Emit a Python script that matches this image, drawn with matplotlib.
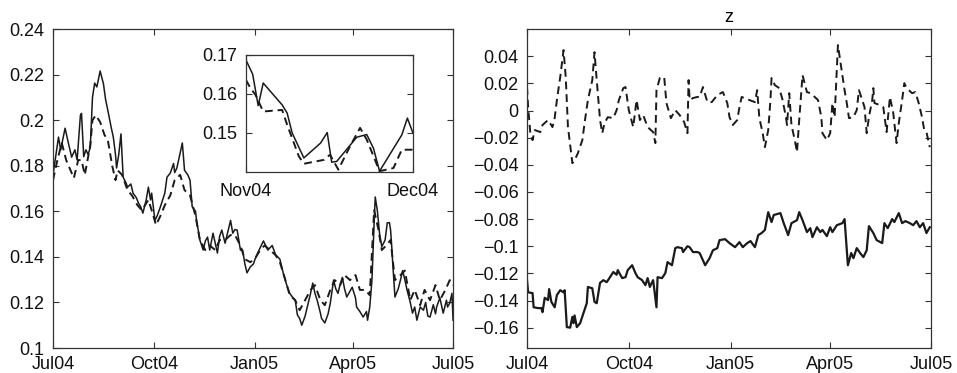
import numpy as np
import pandas as pd
import matplotlib
matplotlib.use("Agg")
import matplotlib.pyplot as plt
import matplotlib.dates as mdates
from matplotlib.ticker import FuncFormatter

plt.rcParams["font.family"] = ["Liberation Sans", "DejaVu Sans"]
plt.rcParams["font.size"] = 13

start = pd.Timestamp("2004-07-01")
inset_start = pd.Timestamp("2004-11-01")

# left panel: days since Jul 1 2004
left_solid_day = [0, 3, 5, 7, 11, 14, 16, 17, 20, 22,
                  25, 26, 28, 30, 32, 34, 36, 38, 40, 43,
                  46, 48, 50, 53, 55, 57, 58, 60, 62, 64,
                  67, 68, 71, 73, 76, 78, 80, 82, 85, 87,
                  89, 90, 93, 95, 98, 100, 102, 104, 107, 110,
                  111, 113, 116, 118, 120, 123, 125, 127, 130, 131,
                  134, 137, 139, 141, 143, 146, 148, 150, 152, 154,
                  157, 160, 162, 164, 166, 168, 171, 173, 175, 177,
                  180, 183, 184, 187, 189, 192, 193, 196, 200, 203,
                  207, 210, 213, 216, 219, 221, 223, 225, 227, 230,
                  232, 235, 237, 239, 241, 244, 245, 248, 251, 253,
                  256, 258, 260, 262, 264, 266, 268, 271, 273, 276,
                  277, 280, 283, 286, 287, 289, 291, 293, 294, 296,
                  297, 298, 300, 303, 305, 307, 308, 309, 310, 312,
                  315, 317, 319, 321, 323, 326, 328, 330, 332, 335,
                  338, 340, 342, 344, 347, 349, 350, 353, 356, 359,
                  360, 362, 364, 365]
left_solid = [0.176, 0.186, 0.1926, 0.187, 0.1965, 0.19, 0.186, 0.1838, 0.187, 0.1825,
              0.2022, 0.203, 0.184, 0.187, 0.185, 0.188, 0.210, 0.2163, 0.2146, 0.2216,
              0.216, 0.209, 0.2044, 0.197, 0.1926, 0.185, 0.179, 0.185, 0.194, 0.175,
              0.172, 0.1706, 0.172, 0.168, 0.166, 0.1636, 0.162, 0.1592, 0.165, 0.1706,
              0.165, 0.168, 0.156, 0.158, 0.162, 0.165, 0.168, 0.175, 0.1768, 0.181,
              0.177, 0.179, 0.1855, 0.19, 0.178, 0.176, 0.1737, 0.162, 0.160, 0.156,
              0.1474, 0.143, 0.147, 0.1487, 0.143, 0.1504, 0.146, 0.1417, 0.149, 0.1518,
              0.146, 0.152, 0.156, 0.1504, 0.152, 0.1518, 0.143, 0.143, 0.137, 0.133,
              0.1356, 0.137, 0.1386, 0.142, 0.144, 0.147, 0.146, 0.143, 0.145, 0.141,
              0.139, 0.133, 0.128, 0.124, 0.122, 0.121, 0.1145, 0.113, 0.110, 0.114,
              0.118, 0.124, 0.1285, 0.124, 0.121, 0.1153, 0.113, 0.111, 0.115, 0.1197,
              0.1298, 0.126, 0.124, 0.128, 0.131, 0.126, 0.1224, 0.125, 0.1267, 0.122,
              0.118, 0.116, 0.1136, 0.116, 0.1122, 0.118, 0.1298, 0.155, 0.1663, 0.160,
              0.1548, 0.150, 0.1445, 0.1474, 0.155, 0.155, 0.1518, 0.145, 0.137, 0.1224,
              0.126, 0.1298, 0.134, 0.130, 0.1255, 0.120, 0.1153, 0.118, 0.1122, 0.118,
              0.1166, 0.120, 0.114, 0.1136, 0.119, 0.115, 0.118, 0.122, 0.1153, 0.121,
              0.118, 0.1197, 0.124, 0.1122]

left_dash_day = [0, 4, 8, 12, 16, 19, 23, 26, 29, 34,
                 36, 39, 43, 47, 50, 54, 57, 59, 63, 68,
                 72, 77, 81, 87, 90, 94, 98, 102, 107, 111,
                 116, 120, 125, 130, 134, 139, 143, 148, 152, 157,
                 162, 166, 171, 175, 180, 184, 189, 193, 198, 203,
                 207, 212, 216, 221, 225, 230, 235, 239, 244, 248,
                 253, 257, 262, 266, 271, 276, 280, 285, 289, 293,
                 297, 300, 304, 308, 312, 317, 321, 326, 330, 335,
                 339, 344, 349, 353, 358, 362, 365]
left_dash = [0.1737, 0.1825, 0.19, 0.1825, 0.178, 0.1746, 0.1825, 0.1825, 0.176, 0.189,
             0.2, 0.2022, 0.1992, 0.1935, 0.1913, 0.18, 0.1737, 0.178, 0.176, 0.1693,
             0.167, 0.1627, 0.1605, 0.165, 0.1605, 0.154, 0.158, 0.1627, 0.167, 0.1737,
             0.176, 0.1693, 0.167, 0.158, 0.1474, 0.143, 0.145, 0.143, 0.1474, 0.1474,
             0.1496, 0.1496, 0.145, 0.139, 0.1377, 0.139, 0.143, 0.145, 0.143, 0.1408,
             0.1377, 0.1298, 0.1232, 0.121, 0.1166, 0.121, 0.1255, 0.1276, 0.121, 0.1188,
             0.1255, 0.1298, 0.1276, 0.132, 0.1298, 0.132, 0.1255, 0.1255, 0.1232, 0.1605,
             0.1518, 0.143, 0.145, 0.1474, 0.1298, 0.132, 0.134, 0.121, 0.1255, 0.1188,
             0.1255, 0.121, 0.1276, 0.121, 0.1255, 0.1298, 0.1276]

# inset: days since Nov 1 2004
inset_solid_day = [0, 1.2, 2.2, 3.1, 6.5, 7.4, 8.3, 10.4, 13.4, 14.6,
                   15.4, 16.3, 19.9, 21.7, 22.9, 24, 28, 29, 30]
inset_solid = [0.1687, 0.1651, 0.157, 0.1628, 0.1572, 0.1551, 0.15, 0.1436, 0.1474, 0.1501,
               0.1425, 0.1427, 0.1489, 0.1496, 0.1461, 0.1402, 0.1495, 0.1538, 0.15]
inset_dash_day = [0, 0.8, 1.7, 3.1, 6.5, 7.4, 9.5, 10.4, 14, 15.1,
                  16.6, 18.7, 20.5, 21.7, 24, 26.5, 28, 30]
inset_dash = [0.1636, 0.1615, 0.1598, 0.1555, 0.1559, 0.1521, 0.144, 0.1421, 0.1431, 0.1444,
              0.1406, 0.1466, 0.1513, 0.1483, 0.1402, 0.141, 0.1457, 0.1457]

# right panel (z)
right_solid_day = [0, 1, 5, 6, 10, 13, 14, 16, 19, 20,
                   22, 25, 27, 30, 33, 34, 36, 39, 41, 42,
                   43, 45, 48, 51, 54, 55, 59, 61, 63, 66,
                   69, 72, 75, 78, 81, 82, 86, 89, 91, 95,
                   98, 100, 104, 107, 109, 111, 114, 117, 118, 122,
                   125, 127, 131, 134, 136, 140, 141, 145, 147, 150,
                   154, 156, 161, 165, 168, 172, 174, 179, 183, 188,
                   192, 195, 199, 202, 206, 209, 212, 215, 218, 221,
                   223, 229, 232, 236, 239, 244, 246, 249, 253, 256,
                   258, 262, 265, 267, 271, 274, 276, 280, 285, 287,
                   290, 293, 295, 298, 301, 304, 307, 309, 313, 316,
                   321, 323, 326, 330, 332, 336, 339, 342, 346, 349,
                   352, 355, 358, 361, 364]
right_solid = [-0.125, -0.134, -0.1345, -0.145, -0.1456, -0.1456, -0.1486, -0.138, -0.1397, -0.1316,
               -0.141, -0.145, -0.136, -0.1324, -0.134, -0.1324, -0.1596, -0.160, -0.152, -0.1567,
               -0.151, -0.1596, -0.1567, -0.1493, -0.142, -0.130, -0.131, -0.141, -0.142, -0.127,
               -0.125, -0.1265, -0.1228, -0.119, -0.121, -0.1176, -0.1235, -0.1228, -0.1176, -0.114,
               -0.1198, -0.1228, -0.125, -0.1287, -0.1235, -0.130, -0.125, -0.145, -0.1228, -0.1235,
               -0.1198, -0.1117, -0.114, -0.1014, -0.1007, -0.1014, -0.1043, -0.1, -0.1007, -0.1043,
               -0.1043, -0.105, -0.114, -0.1088, -0.103, -0.1014, -0.0955, -0.0948, -0.0977, -0.1007,
               -0.097, -0.1007, -0.0977, -0.0962, -0.1007, -0.0918, -0.0903, -0.088, -0.0749, -0.0822,
               -0.077, -0.0756, -0.083, -0.0918, -0.083, -0.0808, -0.0749, -0.0808, -0.0896, -0.0867,
               -0.0933, -0.086, -0.0896, -0.088, -0.0926, -0.086, -0.0896, -0.0845, -0.083, -0.080,
               -0.114, -0.105, -0.1088, -0.1014, -0.105, -0.108, -0.103, -0.0852, -0.0903, -0.0955,
               -0.0977, -0.083, -0.0867, -0.080, -0.0822, -0.0756, -0.083, -0.0815, -0.083, -0.0845,
               -0.0815, -0.086, -0.083, -0.0903, -0.086]

right_dash_day = [0, 1, 3, 5, 7, 12, 14, 19, 23, 25,
                  27, 30, 33, 35, 37, 41, 43, 46, 50, 52,
                  55, 59, 61, 63, 66, 68, 70, 73, 78, 81,
                  83, 87, 89, 92, 96, 99, 102, 105, 109, 114,
                  116, 117, 120, 124, 126, 130, 134, 138, 142, 145,
                  146, 147, 150, 154, 156, 159, 163, 167, 172, 177,
                  181, 183, 186, 190, 192, 194, 201, 206, 208, 210,
                  213, 215, 218, 220, 221, 224, 228, 231, 234, 235,
                  237, 239, 242, 244, 246, 248, 249, 253, 256, 260,
                  263, 266, 267, 271, 274, 276, 278, 280, 281, 283,
                  285, 287, 289, 291, 295, 298, 300, 303, 305, 307,
                  309, 312, 313, 314, 319, 322, 325, 328, 331, 334,
                  336, 339, 341, 343, 348, 351, 354, 357, 359, 361,
                  364]
right_dash = [0.0173, 0.0025, -0.0167, -0.0218, -0.0144, -0.0159, -0.0107, -0.007, -0.0122, -0.0056,
              0.0077, 0.0246, 0.0445, 0.0246, -0.0122, -0.0388, -0.0366, -0.0314, -0.0218, -0.0093,
              0.0077, 0.0224, 0.043, 0.0224, -0.007, -0.0167, -0.0093, -0.0049, -0.0056, 0.0003,
              0.0077, 0.0165, 0.0173, 0.0003, -0.0122, 0.0077, -0.007, -0.0034, -0.0122, -0.0159,
              -0.024, 0.015, 0.0239, 0.0246, 0.0055, -0.0056, 0.0003, -0.0034, -0.0085, -0.0167,
              0.0224, 0.0077, 0.0092, 0.01, 0.01, 0.0173, 0.0062, 0.0062, 0.0114, 0.0136,
              0.0055, -0.0049, -0.0107, -0.007, 0.0025, 0.01, 0.0077, 0.0062, 0.015, -0.0056,
              -0.0167, -0.027, -0.0144, 0.0077, 0.0239, 0.0187, 0.0165, 0.0077, -0.0049, -0.0107,
              0.0128, -0.0107, -0.0218, -0.0307, -0.007, 0.015, 0.0261, 0.0136, 0.0128, 0.01,
              0.0077, -0.0049, -0.0167, -0.0218, -0.0167, 0.0055, -0.0049, 0.0298, 0.0482, 0.0371,
              0.0261, 0.015, 0.0055, -0.0056, -0.0049, 0.0003, 0.015, 0.0077, 0.0025, -0.0167,
              -0.0049, 0.0077, 0.0165, 0.0055, 0.004, 0.0025, -0.0159, 0.01, -0.0019, -0.024,
              -0.0093, 0.0077, 0.0202, 0.0165, 0.0128, 0.0136, 0.0055, -0.0049, -0.0144, -0.0159,
              -0.027]


def to_dates(base, days):
    return base + pd.to_timedelta(np.array(days, dtype=float), unit="D")


def fmt(v, pos):
    if abs(v) < 1e-9:
        return "0"
    s = "{:g}".format(round(v, 4))
    return s.replace("-", "\u2212")


def matlab_style(ax):
    for sp in ax.spines.values():
        sp.set_color("#333333")
        sp.set_linewidth(0.9)
    ax.tick_params(direction="in", length=4, width=0.8, top=True, right=True,
                   colors="#333333", labelcolor="#111111", labelsize=13)
    ax.tick_params(axis="x", pad=6)
    ax.tick_params(axis="y", pad=6)


line_kw = dict(color="#1a1a1a", linewidth=1.1)
dash_kw = dict(color="#1a1a1a", linewidth=1.4, linestyle=(0, (4, 2.5)))

fig = plt.figure(figsize=(9.57, 3.73), dpi=100)
ax1 = fig.add_axes([0.0554, 0.067, 0.418, 0.855])
ax2 = fig.add_axes([0.5507, 0.067, 0.422, 0.855])
axin = fig.add_axes([0.257, 0.539, 0.1745, 0.3137])

ax1.plot(to_dates(start, left_solid_day), left_solid, **line_kw)
ax1.plot(to_dates(start, left_dash_day), left_dash, **dash_kw)
ax1.set_ylim(0.1, 0.24)
ax1.set_yticks(np.arange(0.1, 0.2401, 0.02))

ax2.plot(to_dates(start, right_dash_day), right_dash, **dash_kw)
ax2.plot(to_dates(start, right_solid_day), right_solid, color="#1a1a1a", linewidth=1.6)
ax2.set_ylim(-0.175, 0.06)
ax2.set_yticks(np.arange(-0.16, 0.0401, 0.02))
ax2.set_title("z", fontsize=13, pad=5)

xticks = pd.to_datetime(["2004-07-01", "2004-10-01", "2005-01-01", "2005-04-01", "2005-07-01"])
for ax in (ax1, ax2):
    ax.set_xlim(xticks[0], xticks[-1])
    ax.set_xticks(xticks)
    ax.xaxis.set_major_formatter(mdates.DateFormatter("%b%y"))
    ax.yaxis.set_major_formatter(FuncFormatter(fmt))
    matlab_style(ax)

axin.plot(to_dates(inset_start, inset_solid_day), inset_solid, **line_kw)
axin.plot(to_dates(inset_start, inset_dash_day), inset_dash, **dash_kw)
inset_ticks = pd.to_datetime(["2004-11-01", "2004-12-01"])
axin.set_xlim(inset_ticks[0], inset_ticks[-1])
axin.set_xticks(inset_ticks)
axin.xaxis.set_major_formatter(mdates.DateFormatter("%b%y"))
axin.set_ylim(0.14, 0.17)
axin.set_yticks([0.15, 0.16, 0.17])
axin.yaxis.set_major_formatter(FuncFormatter(fmt))
matlab_style(axin)
axin.tick_params(axis="x", pad=8)

fig.savefig("out.png", dpi=100)
